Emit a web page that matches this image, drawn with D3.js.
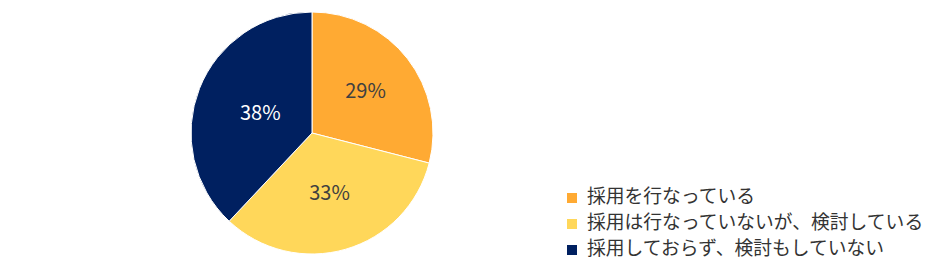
<!DOCTYPE html>
<html>
<head>
<meta charset="utf-8">
<script src="https://cdn.jsdelivr.net/npm/d3@7"></script>
<style>
  body { margin: 0; background: #fff; }
  svg { display: block; font-family: "Noto Sans CJK JP", "Noto Sans", sans-serif; }
</style>
</head>
<body>
<svg id="chart" width="940" height="262"></svg>
<script>
// data
const categories = ["採用を行なっている", "採用は行なっていないが、検討している", "採用しておらず、検討もしていない"];
const values = [29, 33, 38];
const colors = ["#FFAA33", "#FFD75A", "#002060"];
const labelColors = ["#404040", "#404040", "#ffffff"];

// pie geometry
const cx = 312;
const cy = 133;
const radius = 121;
const labelRadius = [0.56, 0.52, 0.46]; // fraction of radius, per slice

const svg = d3.select("#chart");

const pie = d3.pie().sort(null).value(d => d.value);
const arc = d3.arc().innerRadius(0).outerRadius(radius);

const slices = pie(values.map((v, i) => ({ value: v, i: i })));

const g = svg.append("g")
    .attr("transform", `translate(${cx},${cy})`);

g.selectAll(".slice")
    .data(slices)
    .enter().append("path")
    .attr("class", "slice")
    .attr("d", arc)
    .attr("fill", d => colors[d.data.i])
    .attr("stroke", "#fff")
    .attr("stroke-width", 1);

g.selectAll(".label")
    .data(slices)
    .enter().append("text")
    .attr("class", "label")
    .attr("transform", d => {
        const r = radius * labelRadius[d.data.i];
        const a = (d.startAngle + d.endAngle) / 2;
        return `translate(${r * Math.sin(a)},${-r * Math.cos(a)})`;
    })
    .attr("text-anchor", "middle")
    .attr("dy", "0.35em")
    .attr("font-size", "20px")
    .attr("fill", d => labelColors[d.data.i])
    .text(d => `${d.data.value}%`);

// legend
const legendX = 567;
const legendY = 196;
const rowH = 26;

const legend = svg.append("g")
    .attr("transform", `translate(${legendX},${legendY})`);

const rows = legend.selectAll(".row")
    .data(categories)
    .enter().append("g")
    .attr("class", "row")
    .attr("transform", (d, i) => `translate(0,${i * rowH})`);

rows.append("rect")
    .attr("x", 0)
    .attr("y", -3)
    .attr("width", 10)
    .attr("height", 10)
    .attr("fill", (d, i) => colors[i]);

rows.append("text")
    .attr("x", 20)
    .attr("y", 0)
    .attr("dy", "0.35em")
    .attr("font-size", "18.8px")
    .attr("fill", "#333")
    .text(d => d);
</script>
</body>
</html>
